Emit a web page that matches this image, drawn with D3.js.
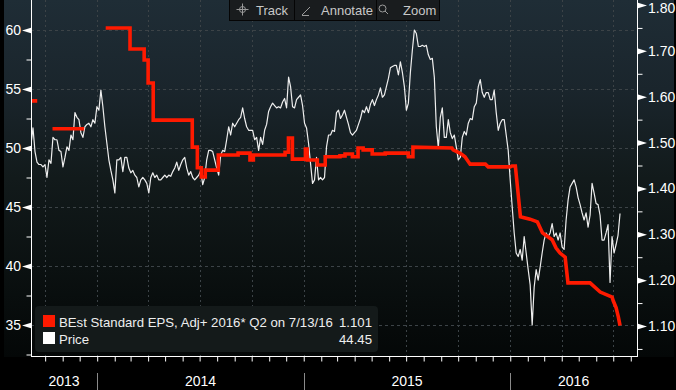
<!DOCTYPE html>
<html><head><meta charset="utf-8">
<script src="https://cdn.jsdelivr.net/npm/d3@7"></script>
<style>
html,body{margin:0;padding:0;background:#000;}
svg{display:block;}
</style></head><body>
<svg id="chart" width="676" height="390"></svg>
<script>
// ---------- DATA ----------
const priceStart = "2013-09-06", priceEnd = "2016-07-13";
const priceValues = [
50.3,51.7,49.7,48.8,48.6,48.6,48.4,48.6,47.5,49.0,
48.7,50.9,50.7,50.7,49.8,49.7,48.4,49.2,50.1,49.8,
51.1,50.7,53.0,52.6,52.4,51.3,50.9,51.8,52.0,52.1,
51.8,52.4,52.1,53.5,53.2,54.9,53.5,51.8,50.4,49.0,
48.1,47.3,46.2,49.0,49.0,49.2,48.0,49.2,49.2,48.3,
47.9,48.1,47.7,47.5,46.7,47.3,47.5,47.3,47.0,46.2,
47.5,47.9,47.5,47.7,47.3,47.3,47.5,47.7,47.5,47.7,
47.6,48.0,48.3,48.8,48.1,48.6,49.0,49.2,48.3,47.7,
48.0,47.5,47.3,47.5,47.7,48.1,46.9,47.5,49.0,49.8,
49.8,49.7,49.0,48.3,47.7,49.4,49.8,49.7,50.7,51.8,
51.1,52.1,51.8,52.1,52.4,52.6,53.4,52.5,51.8,51.5,
51.5,51.5,50.7,50.9,49.8,50.9,50.3,51.5,52.0,53.1,
53.5,53.8,53.6,53.4,53.5,53.4,53.9,54.2,53.4,56.0,
55.2,53.5,53.4,54.1,54.3,54.5,53.6,52.1,51.7,50.4,
48.7,47.0,47.3,49.2,47.3,47.5,47.3,47.5,50.1,51.1,
51.1,51.5,51.4,53.0,53.2,52.5,52.8,53.2,52.6,52.0,
51.3,51.1,51.3,51.5,52.0,52.5,53.2,53.0,53.5,53.0,
53.7,54.1,53.6,54.1,54.5,55.1,54.3,54.5,55.2,55.9,
56.8,56.9,57.0,57.0,56.2,57.3,56.4,55.2,53.2,53.8,
56.4,58.3,60.0,59.7,58.6,58.6,58.7,58.6,58.7,57.9,
57.5,57.6,56.0,51.8,50.0,52.6,53.4,50.9,50.9,52.4,
51.3,50.8,51.1,50.1,49.0,49.2,50.9,51.4,51.1,52.1,
52.5,52.4,53.5,53.8,55.2,55.8,54.7,54.3,54.7,54.7,
54.1,54.1,54.9,53.0,51.5,52.1,52.4,52.4,51.1,49.8,
47.3,45.0,42.8,41.1,40.8,41.4,40.5,42.5,41.1,39.7,
38.4,35.0,38.2,39.7,38.8,39.9,41.1,42.2,42.8,42.5,
42.8,43.6,42.5,42.8,42.2,42.8,41.6,41.4,43.9,45.6,
46.7,47.0,47.3,46.7,45.8,45.2,44.5,43.9,44.5,43.3,
44.3,47.0,46.2,45.3,45.2,44.3,42.2,42.2,42.8,43.5,
38.6,42.5,41.1,41.8,42.6,44.45
];

// BEst EPS estimate (right axis); null = break between estimate periods
const epsPoints = [
["2013-09-06",1.591],["2013-09-17",1.591],
null,
["2013-10-14",1.530],["2013-12-09",1.530],
null,
["2014-01-16",1.750],["2014-02-28",1.750],["2014-02-28",1.704],["2014-03-25",1.704],
["2014-03-25",1.680],["2014-04-01",1.680],["2014-04-01",1.630],["2014-04-10",1.630],
["2014-04-10",1.549],["2014-06-18",1.549],["2014-06-18",1.490],["2014-06-27",1.490],
["2014-06-27",1.445],["2014-07-04",1.445],["2014-07-04",1.425],["2014-07-11",1.425],
["2014-07-11",1.440],["2014-08-03",1.440],["2014-08-03",1.473],["2014-09-07",1.473],
["2014-09-07",1.477],["2014-09-28",1.477],["2014-09-28",1.462],["2014-10-04",1.462],
["2014-10-04",1.473],["2014-11-29",1.473],["2014-11-29",1.479],["2014-12-05",1.479],
["2014-12-05",1.510],["2014-12-12",1.510],["2014-12-12",1.464],["2015-01-04",1.464],
["2015-01-04",1.486],["2015-01-07",1.486],["2015-01-07",1.462],["2015-01-25",1.462],
["2015-01-25",1.451],["2015-02-08",1.451],["2015-02-08",1.469],["2015-03-06",1.469],
["2015-03-06",1.471],["2015-03-15",1.471],["2015-03-15",1.475],["2015-03-28",1.475],
["2015-03-28",1.469],["2015-04-07",1.469],["2015-04-07",1.488],["2015-04-16",1.488],
["2015-04-16",1.484],["2015-05-02",1.484],["2015-05-02",1.475],["2015-05-25",1.475],
["2015-05-25",1.477],["2015-07-05",1.477],["2015-07-05",1.469],["2015-07-13",1.469],
["2015-07-13",1.490],["2015-09-20",1.488],["2015-09-22",1.484],["2015-10-04",1.477],
["2015-10-13",1.469],["2015-10-19",1.458],["2015-10-22",1.453],["2015-11-18",1.453],
["2015-11-23",1.447],["2016-01-01",1.447],["2016-01-04",1.449],["2016-01-10",1.449],
["2016-01-19",1.338],["2016-02-05",1.333],["2016-02-18",1.327],["2016-02-27",1.303],
["2016-03-15",1.288],["2016-03-22",1.270],["2016-03-29",1.259],["2016-04-07",1.250],
["2016-04-12",1.194],["2016-05-21",1.194],["2016-06-08",1.174],["2016-06-29",1.163],
["2016-07-01",1.155],["2016-07-06",1.140],["2016-07-10",1.120],["2016-07-13",1.101]
];

const xDomain = ["2013-09-06", "2016-08-12"];
const leftTicks = [35, 40, 45, 50, 55, 60];
const leftMinor = [32.5, 37.5, 42.5, 47.5, 52.5, 57.5];
const rightTicks = [1.10, 1.20, 1.30, 1.40, 1.50, 1.60, 1.70, 1.80];
const rightMinor = [1.05, 1.15, 1.25, 1.35, 1.45, 1.55, 1.65, 1.75];
const years = [2013, 2014, 2015, 2016];
const legendItems = [
  {label: "BEst Standard EPS, Adj+ 2016* Q2 on 7/13/16", value: "1.101", color: "#ff1a00"},
  {label: "Price", value: "44.45", color: "#ffffff"}
];
const toolbarItems = ["Track", "Annotate", "Zoom"];

// ---------- LAYOUT ----------
const W = 676, H = 390;
const P = {left: 31, right: 637, top: 0, bottom: 356};
const FONT = '"Liberation Sans Narrow","Liberation Sans",Arial,sans-serif';
const FONT2 = '"Liberation Sans",Arial,sans-serif';
const parse = d3.timeParse("%Y-%m-%d");

const svg = d3.select("#chart");
const x = d3.scaleTime().domain(xDomain.map(parse)).range([P.left, P.right]);
const yL = d3.scaleLinear().domain([35, 60]).range([325, 30]);
const yR = d3.scaleLinear().domain([1.10, 1.80]).range([326, 5]);

// background
svg.append("rect").attr("width", W).attr("height", H).attr("fill", "#000");
const defs = svg.append("defs");
const g = defs.append("linearGradient").attr("id", "bg").attr("x1", 0).attr("y1", 0).attr("x2", 0).attr("y2", 1);
[["0%", "#1f2d36"], ["25%", "#1a252c"], ["50%", "#121a1b"], ["75%", "#0b1111"], ["100%", "#040707"]]
  .forEach(([o, c]) => g.append("stop").attr("offset", o).attr("stop-color", c));
svg.append("rect").attr("x", 4).attr("y", 0).attr("width", 670).attr("height", P.bottom + 1).attr("fill", "url(#bg)");
defs.append("clipPath").attr("id", "clip").append("rect")
  .attr("x", P.left).attr("y", P.top).attr("width", P.right - P.left).attr("height", P.bottom - P.top);

// grid
const grid = svg.append("g").attr("stroke", "#3c4347").attr("stroke-width", 1);
grid.selectAll("line.h").data(leftTicks).join("line")
  .attr("x1", P.left).attr("x2", P.right)
  .attr("y1", d => Math.round(yL(d)) + 0.5).attr("y2", d => Math.round(yL(d)) + 0.5)
  .attr("stroke-dasharray", "3,3");
const quarters = d3.timeMonth.range(x.domain()[0], x.domain()[1]).filter(d => d.getMonth() % 3 === 0);
grid.selectAll("line.v").data(quarters).join("line")
  .attr("x1", d => Math.round(x(d)) + 0.5).attr("x2", d => Math.round(x(d)) + 0.5)
  .attr("y1", P.top).attr("y2", P.bottom)
  .attr("stroke-dasharray", "2,3");

// lines
const plot = svg.append("g").attr("clip-path", "url(#clip)");
const t0 = parse(priceStart).getTime(), t1 = parse(priceEnd).getTime();
const priceData = priceValues.map((v, i) => ({date: new Date(t0 + (t1 - t0) * i / (priceValues.length - 1)), v}));
plot.append("path").datum(priceData)
  .attr("fill", "none").attr("stroke", "#eeeeee").attr("stroke-width", 1.2)
  .attr("stroke-linejoin", "round")
  .attr("d", d3.line().x(d => x(d.date)).y(d => yL(d.v)));
const epsData = epsPoints.map(p => p ? {date: parse(p[0]), v: p[1]} : null);
plot.append("path").datum(epsData)
  .attr("fill", "none").attr("stroke", "#ff1a00").attr("stroke-width", 3.6)
  .attr("stroke-linejoin", "miter").attr("stroke-linecap", "butt")
  .attr("d", d3.line().defined(d => d !== null).x(d => x(d.date)).y(d => yR(d.v)));

// axes lines
const ax = svg.append("g").attr("stroke", "#fff").attr("stroke-width", 1).attr("shape-rendering", "crispEdges");
ax.append("line").attr("x1", P.left + 0.5).attr("x2", P.left + 0.5).attr("y1", 0).attr("y2", P.bottom + 0.5);
ax.append("line").attr("x1", P.right + 0.5).attr("x2", P.right + 0.5).attr("y1", 0).attr("y2", P.bottom + 0.5);
ax.append("line").attr("x1", P.left).attr("x2", P.right + 1).attr("y1", P.bottom + 0.5).attr("y2", P.bottom + 0.5);

// left axis
const leftAxis = svg.append("g").attr("transform", `translate(${P.left},0)`)
  .call(d3.axisLeft(yL).tickValues(leftTicks).tickSize(0).tickPadding(10).tickFormat(d3.format("d")));
leftAxis.select(".domain").remove();
leftAxis.selectAll("text").attr("fill", "#fff").style("font", `14px ${FONT}`);
leftAxis.selectAll(".tick").append("path").attr("d", "M-9,0L0,-2.8L0,2.8Z").attr("fill", "#fff");
const leftMinorAxis = svg.append("g").attr("transform", `translate(${P.left + 0.5},0)`)
  .call(d3.axisLeft(yL).tickValues(leftMinor).tickSize(5).tickFormat(""));
leftMinorAxis.select(".domain").remove();
leftMinorAxis.selectAll("line").attr("stroke", "#fff");

// right axis
const rightAxis = svg.append("g").attr("transform", `translate(${P.right + 1},0)`)
  .call(d3.axisRight(yR).tickValues(rightTicks).tickSize(0).tickPadding(10).tickFormat(d3.format(".2f")));
rightAxis.select(".domain").remove();
rightAxis.selectAll("text").attr("fill", "#fff").style("font", `14px ${FONT}`);
// keep the top label inside the picture
rightAxis.selectAll("text").filter(d => yR(d) < 8).attr("y", 3.5);
rightAxis.selectAll(".tick").append("path").attr("d", "M0,-2.8L0,2.8L9,0Z").attr("fill", "#fff");
const rightMinorAxis = svg.append("g").attr("transform", `translate(${P.right + 0.5},0)`)
  .call(d3.axisRight(yR).tickValues(rightMinor).tickSize(5).tickFormat(""));
rightMinorAxis.select(".domain").remove();
rightMinorAxis.selectAll("line").attr("stroke", "#fff");

// bottom axis (monthly ticks)
const bottomAxis = svg.append("g").attr("transform", `translate(0,${P.bottom + 0.5})`)
  .call(d3.axisBottom(x).ticks(d3.timeMonth.every(1)).tickSize(5).tickFormat(""));
bottomAxis.select(".domain").remove();
bottomAxis.selectAll("line").attr("stroke", "#fff");

// year labels and separators
const yearG = svg.append("g");
years.forEach(yr => {
  const a = Math.max(x(new Date(yr, 0, 1)), P.left);
  const b = Math.min(x(new Date(yr + 1, 0, 1)), P.right);
  yearG.append("text").attr("x", (a + b) / 2).attr("y", 386).attr("text-anchor", "middle")
    .attr("fill", "#fff").style("font", `14px ${FONT}`).text(yr);
  if (x(new Date(yr, 0, 1)) > P.left) {
    const sx = Math.round(x(new Date(yr, 0, 1))) + 0.5;
    yearG.append("line").attr("x1", sx).attr("x2", sx).attr("y1", 373).attr("y2", 390)
      .attr("stroke", "#8a8a8a").attr("stroke-width", 1);
  }
});

// legend
const lg = svg.append("g");
lg.append("rect").attr("x", 35).attr("y", 306).attr("width", 343).attr("height", 46).attr("rx", 4)
  .attr("fill", "#141a1a");
legendItems.forEach((it, i) => {
  const yy = 315 + i * 17;
  lg.append("rect").attr("x", 43).attr("y", yy).attr("width", 12).attr("height", 12).attr("fill", it.color);
  lg.append("text").attr("x", 59).attr("y", yy + 12).attr("fill", "#eee").style("font", `13.2px ${FONT2}`).text(it.label);
  lg.append("text").attr("x", 372).attr("y", yy + 12).attr("text-anchor", "end").attr("fill", "#eee")
    .style("font", `13.2px ${FONT2}`).text(it.value);
});

// toolbar
const tb = svg.append("g");
tb.append("rect").attr("x", 229.5).attr("y", -1).attr("width", 210).attr("height", 21.5)
  .attr("fill", "#191c1e").attr("stroke", "#050505");
[294.5, 376.5].forEach(sx => tb.append("line").attr("x1", sx).attr("x2", sx).attr("y1", 0).attr("y2", 20)
  .attr("stroke", "#050505"));
const tx = [256, 321, 403];
toolbarItems.forEach((t, i) => tb.append("text").attr("x", tx[i]).attr("y", 15).attr("fill", "#c8c8c8")
  .style("font", `13px ${FONT}`).text(t));
// icons
const ic = tb.append("g").attr("stroke", "#9a9a9a").attr("fill", "none").attr("stroke-width", 1);
ic.append("circle").attr("cx", 242.5).attr("cy", 9.5).attr("r", 3);
ic.append("path").attr("d", "M242.5,3.5V15.5M236.5,9.5H248.5");
ic.append("path").attr("d", "M302,15L310,7M302,15.5H309");
ic.append("circle").attr("cx", 382.5).attr("cy", 8.5).attr("r", 3.5);
ic.append("path").attr("d", "M385,11L388,14");
</script>
</body></html>
